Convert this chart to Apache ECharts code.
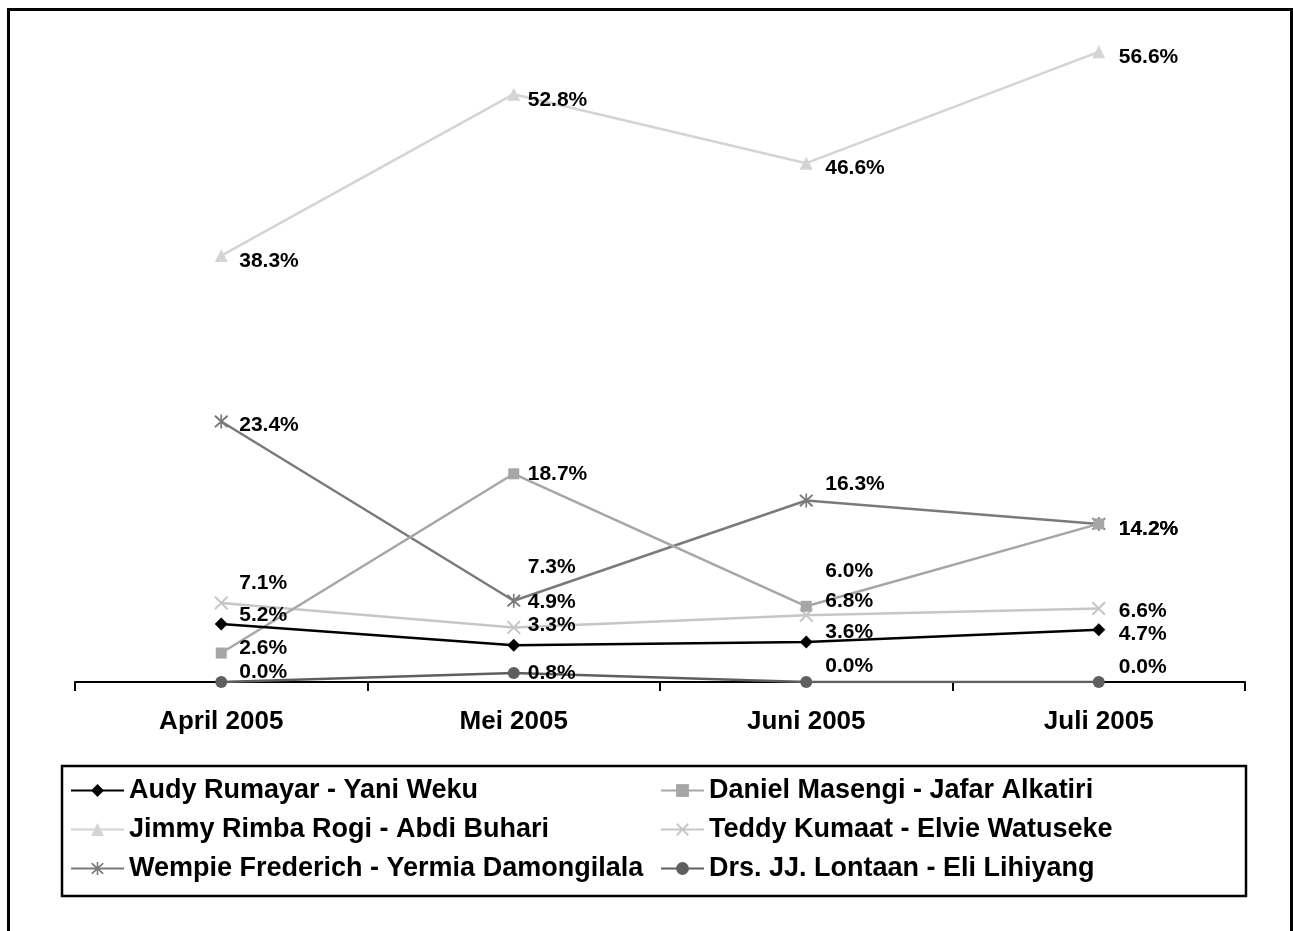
<!DOCTYPE html>
<html>
<head>
<meta charset="utf-8">
<script src="https://cdn.jsdelivr.net/npm/echarts@6/dist/echarts.min.js"></script>
<style>
html,body{margin:0;padding:0;background:#fff;}
#chart{width:1293px;height:931px;}
</style>
</head>
<body>
<div id="chart"></div>
<script>
var categories = ['April 2005', 'Mei 2005', 'Juni 2005', 'Juli 2005'];
var seriesNames = [
  'Audy Rumayar - Yani Weku',
  'Daniel Masengi - Jafar Alkatiri',
  'Jimmy Rimba Rogi - Abdi Buhari',
  'Teddy Kumaat - Elvie Watuseke',
  'Wempie Frederich - Yermia Damongilala',
  'Drs. JJ. Lontaan - Eli Lihiyang'
];
var audy   = [5.2, 3.3, 3.6, 4.7];
var daniel = [2.6, 18.7, 6.8, 14.2];
var jimmy  = [38.3, 52.8, 46.6, 56.6];
var teddy  = [7.1, 4.9, 6.0, 6.6];
var wempie = [23.4, 7.3, 16.3, 14.2];
var drs    = [0.0, 0.8, 0.0, 0.0];

// label placement (style only, in px relative to marker)
var labelDx = [18, 14, 19, 20];
var labelDy = [
  [-9, -20, -10, 5],
  [-5, 0, -5, 5],
  [6, 6, 5, 5],
  [-20, -25, -44, 3],
  [4, -34, -16, 5],
  [-10, 0, -16, -15]
];

var xPath = 'path://M0,1L1,0L5,4L9,0L10,1L6,5L10,9L9,10L5,6L1,10L0,9L4,5Z';
var starPath = 'path://M0,1L1,0L5,4L9,0L10,1L6,5L10,9L9,10L5,6L1,10L0,9L4,5Z M4.4,-0.5L5.6,-0.5L5.6,10.5L4.4,10.5Z';

var styles = [
  {color: '#000000', symbol: 'diamond', size: 13},
  {color: '#a6a6a6', symbol: 'rect', size: 11},
  {color: '#d4d4d4', symbol: 'triangle', size: 13},
  {color: '#c6c6c6', symbol: xPath, size: 14},
  {color: '#7a7a7a', symbol: starPath, size: 14},
  {color: '#5f5f5f', symbol: 'circle', size: 12}
];
var allData = [audy, daniel, jimmy, teddy, wempie, drs];

var series = allData.map(function (vals, si) {
  var st = styles[si];
  return {
    name: seriesNames[si],
    type: 'line',
    data: vals.map(function (v, i) {
      return {
        value: v,
        label: {offset: [labelDx[i], labelDy[si][i]]}
      };
    }),
    symbol: st.symbol,
    symbolSize: st.size,
    showAllSymbol: true,
    lineStyle: {color: st.color, width: 2.5},
    itemStyle: {color: st.color, borderWidth: 0},
    z: 10 - si,
    label: {
      show: true,
      position: 'inside',
      align: 'left',
      verticalAlign: 'middle',
      color: '#000',
      fontFamily: 'Liberation Sans, Arial, sans-serif',
      fontWeight: 'bold',
      fontSize: 21,
      formatter: function (p) { return p.value.toFixed(1) + '%'; }
    },
    emphasis: {disabled: true},
    animation: false
  };
});

var legendText = {
  color: '#000',
  fontFamily: 'Liberation Sans, Arial, sans-serif',
  fontWeight: 'bold',
  fontSize: 27,
  lineHeight: 27
};

var chart = echarts.init(document.getElementById('chart'), null, {renderer: 'canvas'});
chart.setOption({
  backgroundColor: '#ffffff',
  animation: false,
  grid: {left: 75, right: 48, top: 14, bottom: 249, containLabel: false},
  xAxis: {
    type: 'category',
    data: categories,
    boundaryGap: true,
    axisLine: {show: true, lineStyle: {color: '#000', width: 2}},
    axisTick: {show: true, length: 9, lineStyle: {color: '#000', width: 2}},
    axisLabel: {
      color: '#000',
      fontFamily: 'Liberation Sans, Arial, sans-serif',
      fontWeight: 'bold',
      fontSize: 26,
      margin: 27
    },
    splitLine: {show: false}
  },
  yAxis: {
    type: 'value',
    min: 0,
    max: 60,
    show: false,
    splitLine: {show: false}
  },
  legend: [
    {
      orient: 'vertical',
      left: 70,
      top: 777,
      padding: 0,
      itemWidth: 53,
      itemHeight: 16,
      itemGap: 12,
      data: [seriesNames[0], seriesNames[2], seriesNames[4]],
      textStyle: legendText,
      selectedMode: false
    },
    {
      orient: 'vertical',
      left: 660,
      top: 777,
      padding: 0,
      itemWidth: 43,
      itemHeight: 16,
      itemGap: 12,
      data: [seriesNames[1], seriesNames[3], seriesNames[5]],
      textStyle: legendText,
      selectedMode: false
    }
  ],
  graphic: [
    {
      type: 'rect',
      shape: {x: 8.5, y: 9.5, width: 1283, height: 940},
      style: {fill: 'none', stroke: '#000', lineWidth: 3},
      silent: true
    },
    {
      type: 'rect',
      shape: {x: 62, y: 766, width: 1184, height: 130},
      style: {fill: 'none', stroke: '#000', lineWidth: 2.5},
      silent: true
    }
  ],
  series: series
});
</script>
</body>
</html>
